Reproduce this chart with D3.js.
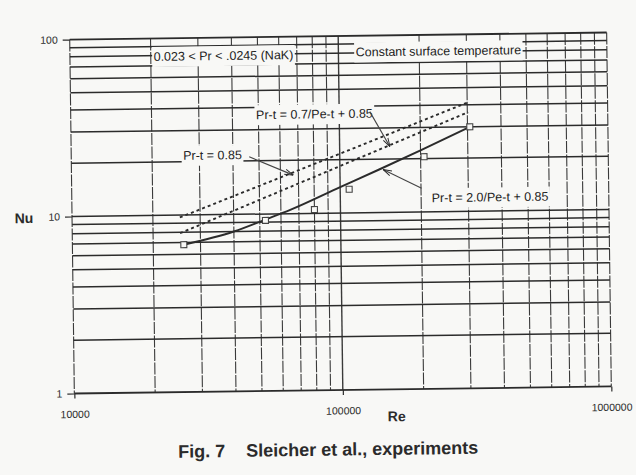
<!DOCTYPE html>
<html><head><meta charset="utf-8">
<script src="https://cdn.jsdelivr.net/npm/d3@7/dist/d3.min.js"></script>
<style>
body{margin:0;background:#f8f8f6;}
svg{display:block;font-family:"Liberation Sans",Arial,Helvetica,sans-serif;}
</style>
</head><body>
<svg id="c" width="636" height="475"></svg>
<script>
// ---- data ----
const reDomain = [10000, 1000000];
const nuDomain = [1, 100];
const xTickValues = [10000, 100000, 1000000];
const xTickLabels = ["10000", "100000", "1000000"];
const yTickValues = [1, 10, 100];
const yTickLabels = ["1", "10", "100"];

// experimental points (open squares)
const expRe = [26000, 52500, 80000, 108000, 206000, 306000];
const expNu = [6.8, 9.2, 10.5, 13.6, 20.5, 30];

// Pr-t = 2.0/Pe-t + 0.85 (solid)
const fitRe = [26000, 40000, 52500, 65000, 100000, 140000, 200000, 306000];
const fitNu = [6.8, 8.0, 9.3, 10.5, 14.0, 17.5, 22.3, 30];

// Pr-t = 0.85 (dotted, upper)
const pr085Re = [25200, 100000, 302000];
const pr085Nu = [9.7, 21.6, 41.3];

// Pr-t = 0.7/Pe-t + 0.85 (dotted, lower)
const pr07Re = [25200, 100000, 302000];
const pr07Nu = [7.9, 18.4, 36.3];

// annotations (data coordinates)
const noteTexts = ["0.023 < Pr < .0245 (NaK)", "Constant surface temperature",
  "Pr-t = 0.7/Pe-t + 0.85", "Pr-t = 0.85", "Pr-t = 2.0/Pe-t + 0.85"];
const noteRe = [20500, 116000, 49000, 26100, 219000];
const noteNu = [79, 81, 36.4, 21.7, 12.0];
const arrowTail = [null, null, [130000, 37.2], [46000, 21.1], [201000, 13.6]];
const arrowTip  = [null, null, [154000, 23.5], [67000, 16.5], [144700, 17.5]];

// ---- drawing ----
const W = 636, H = 475;
const M = {left: 72, right: 609, top: 36, bottom: 390};
const ink = "#2b2b2b";
const paper = "#f8f8f6";

const x = d3.scaleLog().domain(reDomain).range([M.left, M.right]);
const y = d3.scaleLog().domain(nuDomain).range([M.bottom, M.top]);

const svg = d3.select("#c");
svg.append("rect").attr("width", W).attr("height", H).attr("fill", paper);

const defs = svg.append("defs");
defs.append("marker").attr("id", "ah")
  .attr("viewBox", "0 -4 10 8").attr("refX", 10).attr("refY", 0)
  .attr("markerWidth", 9).attr("markerHeight", 7)
  .attr("markerUnits", "userSpaceOnUse").attr("orient", "auto")
  .append("path").attr("d", "M0,-3L10,0L0,3")
  .attr("fill", "none").attr("stroke", ink).attr("stroke-width", 1.1);

const g = svg.append("g").attr("transform", "rotate(-0.75,340.4,213.1)");

// vertical grid lines
g.append("g").selectAll("line").data(x.ticks()).join("line")
  .attr("x1", d => x(d)).attr("x2", d => x(d))
  .attr("y1", M.top).attr("y2", M.bottom)
  .attr("stroke", "#3a3a3a")
  .attr("stroke-width", d => d === 100000 ? 1.4 : 1.1)
  .attr("stroke-dasharray", d => d === 100000 ? null : "12,1.5");

// horizontal grid lines
g.append("g").selectAll("line").data(y.ticks()).join("line")
  .attr("x1", M.left).attr("x2", M.right)
  .attr("y1", d => y(d)).attr("y2", d => y(d))
  .attr("stroke", ink)
  .attr("stroke-width", d => (d === 1 || d === 100) ? 1.8 : 1.5);

// axes
const xAxis = d3.axisBottom(x).tickValues(xTickValues)
  .tickFormat((d, i) => xTickLabels[i]).tickSize(5).tickPadding(12);
const gx = g.append("g").attr("transform", `translate(0,${M.bottom})`).call(xAxis);
gx.select(".domain").remove();
gx.attr("font-family", null).attr("font-size", 10.5);
gx.selectAll("line").attr("stroke", ink).attr("stroke-width", 1.2);
gx.selectAll("text").attr("fill", ink);

const yAxis = d3.axisLeft(y).tickValues(yTickValues)
  .tickFormat((d, i) => yTickLabels[i]).tickSize(7).tickPadding(5);
const gy = g.append("g").attr("transform", `translate(${M.left},0)`).call(yAxis);
gy.select(".domain").remove();
gy.attr("font-family", null).attr("font-size", 10.5);
gy.selectAll("line").attr("stroke", ink).attr("stroke-width", 1.2);
gy.selectAll("text").attr("fill", ink);

// axis titles
g.append("text").attr("x", 24).attr("y", 214).attr("dy", "0.35em")
  .attr("text-anchor", "middle").attr("font-weight", "bold").attr("font-size", 14)
  .attr("fill", ink).text("Nu");
g.append("text").attr("x", 394).attr("y", 417).attr("dy", "0.35em")
  .attr("text-anchor", "middle").attr("font-weight", "bold").attr("font-size", 14)
  .attr("fill", ink).text("Re");

// curves
const line = d3.line().x(d => x(d[0])).y(d => y(d[1])).curve(d3.curveMonotoneX);
g.append("path").datum(d3.zip(pr085Re, pr085Nu)).attr("d", line)
  .attr("fill", "none").attr("stroke", ink).attr("stroke-width", 1.9)
  .attr("stroke-dasharray", "3,3");
g.append("path").datum(d3.zip(pr07Re, pr07Nu)).attr("d", line)
  .attr("fill", "none").attr("stroke", ink).attr("stroke-width", 1.9)
  .attr("stroke-dasharray", "3,3");
g.append("path").datum(d3.zip(fitRe, fitNu)).attr("d", line)
  .attr("fill", "none").attr("stroke", ink).attr("stroke-width", 2);

// experimental squares
const sq = 6;
g.append("g").selectAll("rect").data(d3.zip(expRe, expNu)).join("rect")
  .attr("x", d => x(d[0]) - sq / 2).attr("y", d => y(d[1]) - sq / 2)
  .attr("width", sq).attr("height", sq)
  .attr("fill", paper).attr("stroke", "#444").attr("stroke-width", 1.1);

// annotations
noteTexts.forEach((t, i) => {
  const ng = g.append("g");
  const txt = ng.append("text")
    .attr("x", x(noteRe[i])).attr("y", y(noteNu[i])).attr("dy", "0.35em")
    .attr("font-size", 12.5).attr("fill", "#222").text(t);
  const bb = txt.node().getBBox();
  ng.insert("rect", "text")
    .attr("x", bb.x - 1.5).attr("y", bb.y - 3)
    .attr("width", bb.width + 3).attr("height", bb.height + 6)
    .attr("fill", paper);
  if (arrowTail[i]) {
    g.append("line")
      .attr("x1", x(arrowTail[i][0])).attr("y1", y(arrowTail[i][1]))
      .attr("x2", x(arrowTip[i][0])).attr("y2", y(arrowTip[i][1]))
      .attr("stroke", "#444").attr("stroke-width", 1.1)
      .attr("marker-end", "url(#ah)");
  }
});

// caption
g.append("text").attr("x", 175).attr("y", 455.5)
  .attr("font-weight", "bold").attr("font-size", 18).attr("fill", ink)
  .text("Fig. 7");
g.append("text").attr("x", 243).attr("y", 455.5)
  .attr("font-weight", "bold").attr("font-size", 18).attr("fill", ink)
  .text("Sleicher et al., experiments");
</script>
</body></html>
